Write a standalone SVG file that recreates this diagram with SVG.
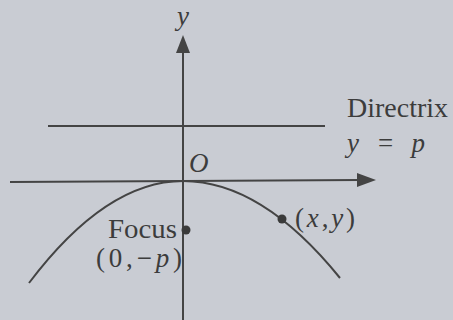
<svg xmlns="http://www.w3.org/2000/svg" width="453" height="320" viewBox="0 0 453 320">
<style>
.ln{stroke:#444;stroke-width:2;fill:none}
.t{font-family:"Liberation Serif","Times New Roman",serif;fill:#3c3c3c;font-size:27px}
.i{font-style:italic}
.dot{fill:#3a3a3a}
.ah{fill:#444}
</style>
<rect width="453" height="320" fill="#c9ccd3"/>
<g id="connectors">
<line class="ln" x1="183" y1="320" x2="183" y2="48"/>
<polygon class="ah" points="183,35 176,53 190,53"/>
<line class="ln" x1="10" y1="182" x2="360" y2="180"/>
<polygon class="ah" points="376,180 357,173 357,187"/>
<line class="ln" x1="48" y1="126" x2="325" y2="126"/>
<path class="ln" d="M29,283 Q106,181 183,181 Q261.5,181 340,278"/>
</g>
<g id="y-label"><text class="t i" x="177" y="25" font-size="27">y</text></g>
<g id="origin"><text class="t i" x="189" y="172" font-size="25">O</text></g>
<g id="directrix">
<text class="t" x="347" y="117" textLength="101" lengthAdjust="spacingAndGlyphs">Directrix</text>
<text class="t i" x="347" y="152" font-size="29" textLength="78" lengthAdjust="spacing">y = p</text>
</g>
<g id="focus">
<circle class="dot" cx="186" cy="230" r="4.5"/>
<text class="t" x="108" y="238" textLength="69" lengthAdjust="spacingAndGlyphs">Focus</text>
<text class="t" x="96" y="267" font-size="28" textLength="86" lengthAdjust="spacing">(0,−<tspan class="i">p</tspan>)</text>
</g>
<g id="point">
<circle class="dot" cx="282" cy="219" r="4.5"/>
<text class="t" x="295" y="227" font-size="28" textLength="60" lengthAdjust="spacing">(<tspan class="i">x</tspan>,<tspan class="i">y</tspan>)</text>
</g>
</svg>
